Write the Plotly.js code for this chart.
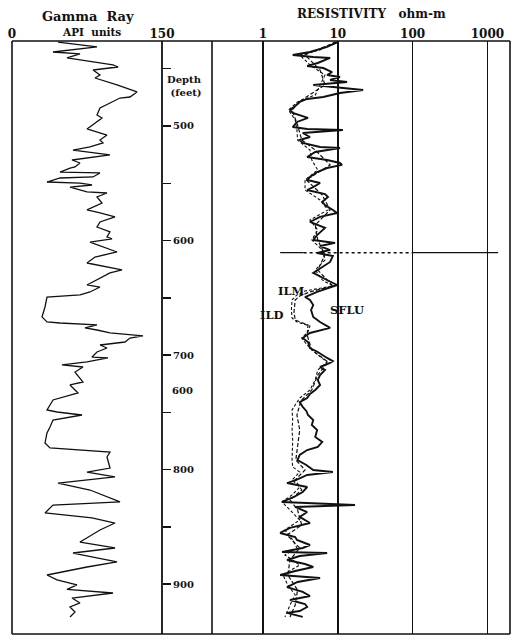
<!DOCTYPE html>
<html>
<head>
<meta charset="utf-8">
<script src="https://cdn.plot.ly/plotly-3.0.1.min.js"></script>
<style>html,body{margin:0;padding:0;background:#fff;}#chart{width:523px;height:644px;}</style>
</head>
<body>
<div id="chart"></div>
<script>
// Gamma Ray (API units) vs depth (feet)
const gammaDepth = [426.7,431.0,435.4,437.1,440.6,446.7,448.5,451.1,455.5,458.1,464.2,470.3,474.7,475.6,479.9,484.3,490.4,493.0,502.6,507.9,512.2,514.8,518.3,521.0,525.3,529.7,532.3,535.8,536.7,540.2,541.0,544.5,545.4,548.9,549.8,551.5,553.3,557.6,558.5,562.0,567.2,573.3,575.9,579.4,583.8,588.2,592.5,596.9,598.6,601.3,610.0,614.4,619.6,625.7,628.3,634.4,638.8,640.6,644.9,647.5,649.3,658.0,666.7,671.1,672.0,673.7,676.3,678.1,680.7,683.3,685.1,688.6,691.2,693.8,697.3,701.7,702.5,706.0,708.6,710.4,714.8,723.5,726.1,733.1,736.6,739.2,747.9,749.7,752.3,756.7,762.8,768.0,776.7,781.1,784.6,789.0,798.6,802.1,806.4,811.7,817.8,828.2,830.9,837.8,842.2,846.6,852.7,863.2,868.4,872.8,880.6,885.0,892.0,896.3,900.7,904.5,907.7,912.1,916.4,919.9,924.3,928.6];
const gammaAPI = [46,85,41,68,55,101,106,81,88,83,105,125,118,108,98,88,85,90,75,95,88,91,78,61,98,60,68,63,58,48,88,81,48,35,68,80,58,75,95,85,90,75,88,103,88,85,98,95,100,78,105,83,75,110,98,85,75,88,78,68,35,33,30,35,48,85,73,85,98,131,118,113,88,95,85,80,96,75,50,71,63,71,58,66,51,41,35,45,70,41,38,35,33,38,98,95,98,75,103,46,78,108,41,33,80,103,88,68,103,61,105,75,35,45,65,55,101,60,68,58,63,58];

// SFLU (ohm-m)
const sfluDepth = [426.7,431.0,435.4,438.0,439.8,440.6,445.0,447.6,449.4,452.9,455.5,457.2,459.8,461.6,464.2,466.0,468.6,471.2,474.7,476.4,479.0,482.5,486.0,488.6,493.0,496.5,500.9,502.6,503.5,506.1,509.6,512.2,514.8,518.3,519.2,522.7,527.1,529.7,532.3,534.0,536.7,540.2,544.5,547.1,549.8,553.3,555.9,559.4,562.0,566.3,569.0,573.3,576.0,579.4,583.8,589.0,595.2,599.5,602.1,604.8,608.3,610.9,613.5,618.7,624.0,628.3,633.6,638.8,644.9,649.3,651.9,656.3,660.6,666.7,671.1,676.3,680.7,685.1,688.6,693.8,697.3,699.9,702.5,705.2,706.9,710.4,713.0,717.4,721.7,726.1,730.5,734.0,737.5,741.0,745.3,748.8,752.3,756.7,761.0,765.4,771.5,775.9,780.2,782.9,787.2,791.6,796.0,800.3,802.1,804.7,809.0,811.7,815.2,819.5,823.9,828.2,830.9,832.6,837.0,841.3,846.6,850.9,855.3,858.8,861.4,865.8,868.4,871.9,872.8,875.4,878.9,882.4,885.0,888.5,892.0,894.6,898.1,902.5,906.8,910.3,913.8,917.3,919.9,923.4,925.1,928.6];
const sfluRes = [10.0,7.2,4.25,2.5,4.7,7.9,5.4,3.9,6.4,8.4,7.2,10.7,7.9,13.3,4.7,8.6,21.8,10.7,6.4,3.9,3.1,2.7,2.3,2.5,4.0,2.85,2.5,3.9,11.7,3.4,4.25,3.1,3.4,5.8,10.7,5.0,3.9,7.2,10.7,11.4,7.2,5.3,4.25,3.9,5.8,4.7,3.9,6.75,7.4,6.2,6.75,8.6,9.8,5.8,4.25,6.75,5.3,4.7,9.2,5.8,7.9,5.3,8.6,7.9,5.8,4.7,6.75,9.8,5.3,3.65,4.25,4.7,4.4,4.7,5.8,7.9,4.25,3.4,4.0,4.25,5.4,6.2,7.2,8.6,7.9,5.8,6.75,5.8,5.4,5.8,5.0,4.25,3.9,3.1,3.4,3.8,4.0,4.7,4.5,5.3,5.0,6.2,5.4,3.9,3.1,2.9,3.8,4.7,8.6,3.9,2.8,2.1,3.9,3.4,2.6,1.8,17.0,2.7,3.9,3.1,4.25,2.3,1.7,2.7,2.85,4.25,3.4,1.8,7.2,3.1,2.1,3.65,4.7,2.7,1.7,5.8,2.9,2.1,3.4,4.25,2.3,3.65,3.9,3.1,2.1,3.4];

// ILM (ohm-m)
const ilmDepth = [426.7,438.0,451.1,464.2,477.3,486.0,499.1,512.2,521.0,534.0,547.1,560.2,573.3,586.4,599.5,612.6,625.7,639.7,644.9,648.4,651.9,662.4,669.4,673.7,682.5,695.6,706.0,717.4,730.5,739.2,743.6,752.3,765.4,778.5,791.6,800.3,809.0,817.8,826.5,835.2,848.3,857.1,868.4,878.9,892.0,905.1,918.2,928.6];
const ilmRes = [9.5,3.65,5.8,6.75,3.3,2.45,2.9,3.3,5.0,7.9,3.8,6.2,7.9,5.0,5.4,6.75,5.4,8.6,4.25,3.1,2.7,2.6,2.7,4.0,3.9,4.5,7.4,5.4,4.5,3.3,3.1,2.85,3.1,2.9,2.75,3.65,2.7,3.3,2.3,2.9,3.3,2.1,3.1,2.3,2.15,2.9,2.7,2.3];

// ILD (ohm-m)
const ildDepth = [426.7,433.7,438.0,446.7,455.5,464.2,472.9,479.0,486.0,494.8,503.5,512.2,521.0,529.7,538.4,547.1,555.9,564.6,573.3,582.1,590.8,599.5,608.3,617.0,625.7,634.4,639.7,644.0,647.5,651.9,660.6,667.6,671.1,674.6,679.8,685.1,691.2,699.9,706.0,713.0,721.7,730.5,737.5,742.7,747.9,756.7,765.4,774.1,782.9,791.6,797.7,802.1,809.0,815.2,822.1,828.2,835.2,844.0,852.7,861.4,868.4,874.5,883.2,892.0,900.7,909.4,918.2,928.6];
const ildRes = [9.2,5.8,3.1,4.25,6.75,5.8,5.0,2.9,2.2,2.7,2.85,2.9,4.25,4.5,5.4,3.65,3.65,5.8,7.4,4.25,5.4,4.5,6.2,6.75,5.0,6.2,8.6,3.65,2.85,2.45,2.4,2.45,2.85,4.25,4.0,3.3,3.9,5.4,7.2,5.4,5.0,4.25,3.1,2.75,2.45,2.5,2.45,2.5,2.45,2.45,2.5,3.1,2.45,3.1,2.45,1.8,2.3,3.1,1.97,2.5,2.85,1.97,3.1,1.85,2.15,2.7,2.3,1.97];

// Spike across the resistivity track
const spikeDepth = [610.6, 610.6];
const spikeLeftRes = [1.7, 3.5];
const spikeDotRes = [3.5, 100];
const spikeRightRes = [100, 1390];

// Axis labels
const depthTicks = [450,500,550,600,650,700,750,800,850,900];
const depthLabels = ['','500','','600','','700','','800','','900'];
const gammaTicks = [0,150];
const resTicks = [1,10,100,1000];
const resLabels = ['1','10','100','1000'];

const SERIF = 'DejaVu Serif, Liberation Serif, serif';
const ink = '#111';

const traces = [
  {x: gammaAPI, y: gammaDepth, xaxis:'x', yaxis:'y', mode:'lines', line:{color:ink, width:1.3}, hoverinfo:'skip'},
  {x: ildRes, y: ildDepth, xaxis:'x2', yaxis:'y', mode:'lines', line:{color:ink, width:1.1, dash:'3px,2px'}, hoverinfo:'skip'},
  {x: ilmRes, y: ilmDepth, xaxis:'x2', yaxis:'y', mode:'lines', line:{color:ink, width:1.2, dash:'4px,2px'}, hoverinfo:'skip'},
  {x: sfluRes, y: sfluDepth, xaxis:'x2', yaxis:'y', mode:'lines', line:{color:ink, width:1.9}, hoverinfo:'skip'},
  {x: spikeLeftRes, y: spikeDepth, xaxis:'x2', yaxis:'y', mode:'lines', line:{color:ink, width:1.3}, hoverinfo:'skip'},
  {x: spikeDotRes, y: spikeDepth, xaxis:'x2', yaxis:'y', mode:'lines', line:{color:ink, width:1.6, dash:'dot'}, hoverinfo:'skip'},
  {x: spikeRightRes, y: spikeDepth, xaxis:'x2', yaxis:'y', mode:'lines', line:{color:ink, width:1.2}, hoverinfo:'skip'}
];

const bfont = (s) => ({family: SERIF, size: s, color: ink, weight: 'bold'});

const vline = (x, w) => ({type:'line', xref:'paper', yref:'paper', x0:x, x1:x, y0:0, y1:1, line:{color:ink, width:w}});
const hline = (y, w) => ({type:'line', xref:'paper', yref:'paper', x0:0, x1:1, y0:y, y1:y, line:{color:ink, width:w}});

const layout = {
  width: 523, height: 644,
  margin: {l:12, r:13, t:41, b:10},
  paper_bgcolor: '#fff', plot_bgcolor: '#fff',
  showlegend: false,
  xaxis: {domain:[0, 0.3012], range:[0,150], side:'top', anchor:'y',
          tickvals: gammaTicks, ticktext: gammaTicks.map(String), ticks:'', tickfont: bfont(12),
          showgrid:false, zeroline:false, showline:false, fixedrange:true},
  xaxis2: {domain:[0.3988, 1], type:'log', range:[-0.699, 3.301], side:'top', anchor:'y',
          tickvals: resTicks, ticktext: resLabels, ticks:'', tickfont: bfont(12),
          showgrid:true, gridcolor: ink, gridwidth:1.6, zeroline:false, showline:false, fixedrange:true},
  yaxis: {domain:[0,1], range:[943.5, 425.8], anchor:'x', side:'right',
          tickvals: depthTicks, ticktext: depthLabels, ticks:'outside', ticklen:8, tickwidth:1.5, tickcolor: ink,
          tickfont: bfont(10), showgrid:false, zeroline:false, showline:false, fixedrange:true},
  shapes: [
    vline(0, 1.6), vline(0.3012, 1.8), vline(0.4016, 1.6), vline(1, 1.6),
    hline(0, 1.6), hline(1, 1.6)
  ],
  annotations: [
    {xref:'paper', yref:'paper', x:0.153, y:1.0405, xanchor:'center', yanchor:'middle', text:'Gamma  Ray', showarrow:false, font: bfont(13)},
    {xref:'paper', yref:'paper', x:0.160, y:1.0152, xanchor:'center', yanchor:'middle', text:'API  units', showarrow:false, font: bfont(10.5)},
    {xref:'paper', yref:'paper', x:0.721, y:1.0455, xanchor:'center', yanchor:'middle', text:'RESISTIVITY   ohm-m', showarrow:false, font: bfont(12)},
    {xref:'paper', yref:'y', x:0.308, y:451, xanchor:'left', yanchor:'top', yshift:-2, text:'Depth<br> (feet)', align:'left', showarrow:false, font: bfont(10)},
    {xref:'paper', yref:'y', x:0.318, y:731, xanchor:'left', text:'600', showarrow:false, font: bfont(10)},
    {xref:'x2', yref:'y', x:Math.log10(2.4), y:644, text:'ILM', showarrow:false, font: bfont(11.5)},
    {xref:'x2', yref:'y', x:Math.log10(1.3), y:665, text:'ILD', showarrow:false, font: bfont(11.5)},
    {xref:'x2', yref:'y', x:Math.log10(13.3), y:661, text:'SFLU', showarrow:false, font: bfont(11.5)}
  ]
};

Plotly.newPlot('chart', traces, layout, {staticPlot:true, displayModeBar:false});
</script>
</body>
</html>
